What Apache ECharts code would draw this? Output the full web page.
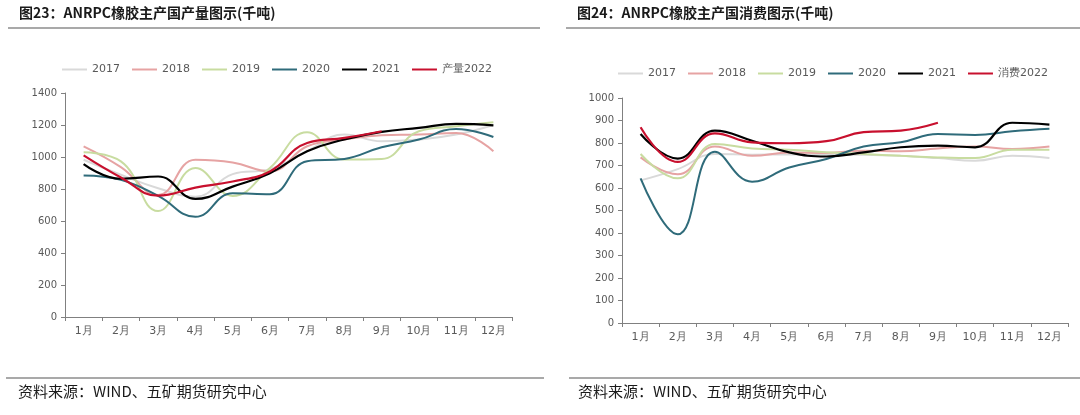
<!DOCTYPE html>
<html><head><meta charset="utf-8">
<script src="https://cdn.jsdelivr.net/npm/echarts@6/dist/echarts.min.js"></script>
<style>html,body{margin:0;padding:0;background:#fff}#c{width:1080px;height:415px}</style>
</head><body><div id="c"></div>
<script>
const months = ['1月','2月','3月','4月','5月','6月','7月','8月','9月','10月','11月','12月'];
const seriesNamesL = ['2017','2018','2019','2020','2021','产量2022'];
const seriesNamesR = ['2017','2018','2019','2020','2021','消费2022'];
const prod2017 = [983, 889, 805, 752, 893, 924, 1036, 1140, 1098, 1109, 1140, 1200];
const prod2018 = [1067, 937, 763, 983, 966, 910, 1067, 1109, 1136, 1140, 1150, 1036];
const prod2019 = [1029, 973, 662, 931, 757, 931, 1155, 984, 988, 1161, 1192, 1217];
const prod2020 = [885, 857, 757, 626, 773, 767, 974, 988, 1061, 1109, 1175, 1125];
const prod2021 = [956, 864, 878, 738, 815, 899, 1036, 1109, 1157, 1182, 1207, 1198];
const prod2022 = [1010, 872, 759, 809, 847, 910, 1088, 1119, 1161];
const cons2017 = [634, 684, 751, 748, 749, 749, 748, 743, 733, 721, 743, 733];
const cons2018 = [736, 661, 785, 743, 758, 756, 766, 763, 776, 784, 773, 784];
const cons2019 = [751, 643, 796, 776, 770, 759, 751, 743, 736, 733, 770, 770];
const cons2020 = [643, 394, 761, 628, 691, 729, 784, 803, 840, 836, 852, 863];
const cons2021 = [840, 731, 855, 810, 758, 740, 758, 781, 788, 781, 890, 882];
const cons2022 = [870, 716, 843, 803, 799, 808, 848, 855, 890];
const yTicksL = [0, 1400, 200];
const yTicksR = [0, 1000, 100];

const colors = ['#d9d9d9', '#e6a3a3', '#c8dca0', '#2f6b7a', '#000000', '#c8102e'];
const widths = [2, 2, 2, 2, 2.2, 2.2];
const dataL = [prod2017, prod2018, prod2019, prod2020, prod2021, prod2022];
const dataR = [cons2017, cons2018, cons2019, cons2020, cons2021, cons2022];

const axisGray = '#808080';
const labelGray = '#595959';
const font = "'DejaVu Sans', sans-serif";

function xAxis(gi) {
  return {
    type: 'category', gridIndex: gi, data: months, boundaryGap: true,
    axisLine: {lineStyle: {color: axisGray, width: 1}},
    axisTick: {show: true, length: 4, lineStyle: {color: axisGray}},
    axisLabel: {color: labelGray, fontSize: 11, margin: 9, fontFamily: font}
  };
}
function yAxis(gi, t) {
  return {
    type: 'value', gridIndex: gi, min: t[0], max: t[1], interval: t[2],
    axisLine: {show: true, lineStyle: {color: axisGray, width: 1}},
    axisTick: {show: true, length: 4, lineStyle: {color: axisGray}},
    splitLine: {show: false},
    axisLabel: {color: labelGray, fontSize: 10, margin: 8, fontFamily: font, formatter: v => String(v)}
  };
}
const series = [];
seriesNamesL.forEach((n, i) => series.push({
  name: n, type: 'line', xAxisIndex: 0, yAxisIndex: 0, data: dataL[i],
  smooth: 0.45, symbol: 'none', lineStyle: {color: colors[i], width: widths[i]}, itemStyle: {color: colors[i]}, z: 2 + i
}));
seriesNamesR.forEach((n, i) => series.push({
  name: n, type: 'line', xAxisIndex: 1, yAxisIndex: 1, data: dataR[i],
  smooth: 0.45, symbol: 'none', lineStyle: {color: colors[i], width: widths[i]}, itemStyle: {color: colors[i]}, z: 2 + i
}));

const legendStyle = {color: labelGray, fontSize: 11, fontFamily: font};
const chart = echarts.init(document.getElementById('c'), null, {renderer: 'canvas'});
chart.setOption({
  animation: false,
  backgroundColor: '#fff',
  legend: [
    {data: seriesNamesL, left: 57, top: 59, icon: 'rect', itemWidth: 25, itemHeight: 2, itemGap: 12, textStyle: legendStyle, selectedMode: false},
    {data: seriesNamesR, left: 613, top: 63, icon: 'rect', itemWidth: 25, itemHeight: 2, itemGap: 12, textStyle: legendStyle, selectedMode: false}
  ],
  grid: [
    {left: 65, right: 568, top: 93, bottom: 98},
    {left: 622, right: 12, top: 98, bottom: 92}
  ],
  xAxis: [xAxis(0), xAxis(1)],
  yAxis: [yAxis(0, yTicksL), yAxis(1, yTicksR)],
  series: series,
  graphic: [
    {type: 'text', left: 19, top: 6, style: {text: '图23：ANRPC橡胶主产国产量图示(千吨)', fontSize: 14, fontWeight: 'bold', fill: '#1a1a1a', fontFamily: "'Noto Sans CJK SC', sans-serif"}},
    {type: 'text', left: 577, top: 6, style: {text: '图24：ANRPC橡胶主产国消费图示(千吨)', fontSize: 14, fontWeight: 'bold', fill: '#1a1a1a', fontFamily: "'Noto Sans CJK SC', sans-serif"}},
    {type: 'line', shape: {x1: 8, y1: 28, x2: 540, y2: 28}, style: {stroke: '#8c8c8c', lineWidth: 1.5}},
    {type: 'line', shape: {x1: 566, y1: 28, x2: 1080, y2: 28}, style: {stroke: '#8c8c8c', lineWidth: 1.5}},
    {type: 'line', shape: {x1: 6, y1: 378, x2: 544, y2: 378}, style: {stroke: '#8c8c8c', lineWidth: 1.5}},
    {type: 'line', shape: {x1: 569, y1: 378, x2: 1080, y2: 378}, style: {stroke: '#8c8c8c', lineWidth: 1.5}},
    {type: 'text', left: 18, top: 384, style: {text: '资料来源：WIND、五矿期货研究中心', fontSize: 15, fill: '#1a1a1a', fontFamily: "'Noto Sans CJK SC', sans-serif"}},
    {type: 'text', left: 578, top: 384, style: {text: '资料来源：WIND、五矿期货研究中心', fontSize: 15, fill: '#1a1a1a', fontFamily: "'Noto Sans CJK SC', sans-serif"}}
  ]
});
</script></body></html>
